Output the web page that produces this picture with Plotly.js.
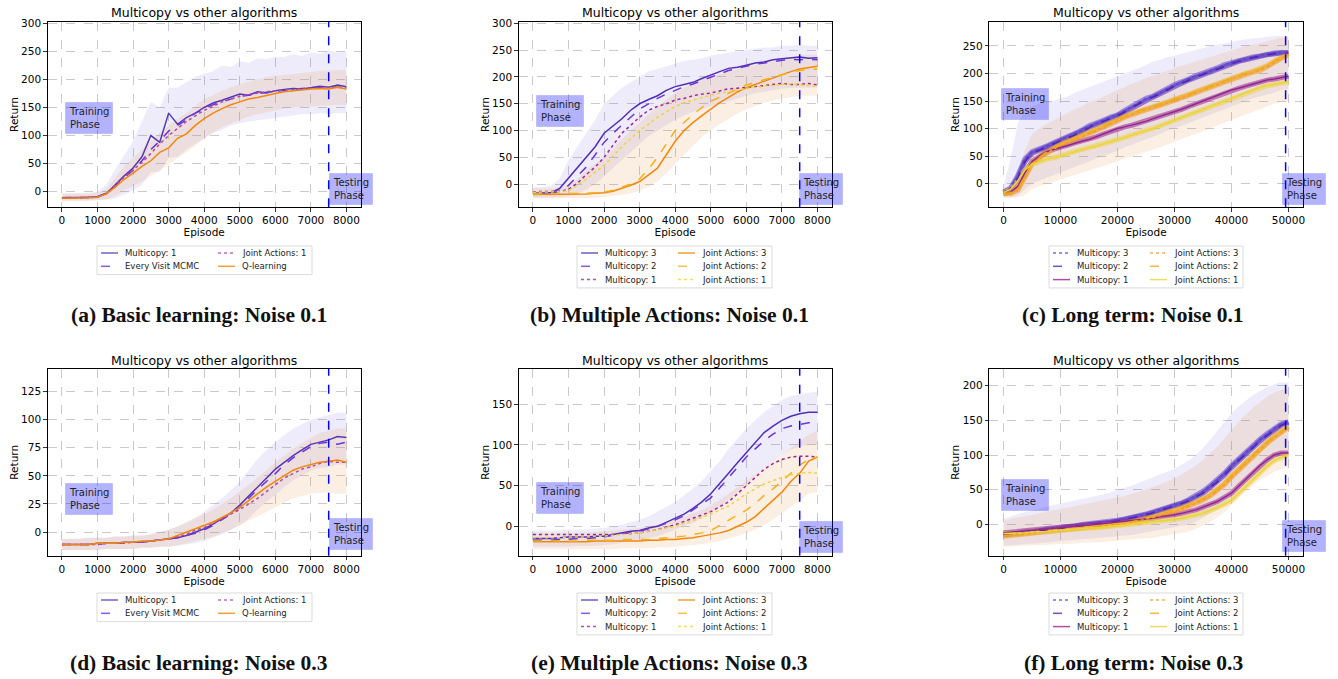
<!DOCTYPE html>
<html>
<head>
<meta charset="utf-8">
<script src="https://cdn.plot.ly/plotly-3.0.1.min.js"></script>
<style>html,body{margin:0;padding:0;background:#fff;}#chart{width:1338px;height:679px;}</style>
</head>
<body>
<div id="chart"></div>
<script>
// ---------- DATA ----------
const epShort = [0,250,500,750,1000,1250,1500,1750,2000,2250,2500,2750,3000,3250,3500,3750,4000,4250,4500,4750,5000,5250,5500,5750,6000,6250,6500,6750,7000,7250,7500,7750,8000];
const epLong = [0,1250,2500,3750,5000,6250,7500,8750,10000,11250,12500,13750,15000,16250,17500,18750,20000,21250,22500,23750,25000,26250,27500,28750,30000,31250,32500,33750,35000,36250,37500,38750,40000,41250,42500,43750,45000,46250,47500,48750,50000];
const testStartShort = 7500;
const testStartLong = 49500;

const xTicksShort = [0,1000,2000,3000,4000,5000,6000,7000,8000];
const xTicksLong = [0,10000,20000,30000,40000,50000];
const yTicksA = [0,50,100,150,200,250,300];
const yTicksB = [0,50,100,150,200,250,300];
const yTicksC = [0,50,100,150,200,250];
const yTicksD = [0,25,50,75,100,125];
const yTicksE = [0,50,100,150];
const yTicksF = [0,50,100,150,200];

// (a) Basic learning: Noise 0.1
const aMulticopy1 = [-11,-11,-11,-10,-9,-4,12,28,42,62,100,88,140,120,132,140,150,158,163,168,174,172,178,176,180,182,184,183,186,188,186,190,187];
const aEveryVisit = [-11,-11,-11,-10,-9,-3,10,25,38,55,75,90,108,118,128,140,148,155,160,165,170,172,175,177,179,181,183,184,185,186,187,186,186];
const aJoint1 = [-12,-12,-11,-11,-10,-3,12,25,38,52,68,85,100,112,125,135,145,152,160,165,170,173,176,178,180,181,182,184,185,185,186,186,185];
const aQlearn = [-12,-12,-12,-11,-10,-4,8,22,33,45,55,70,78,95,103,118,130,140,148,155,160,165,168,172,175,178,180,181,183,184,183,186,183];
const aMcHi = [-3,-3,-3,-2,0,12,40,65,90,125,160,150,185,185,195,205,210,215,225,222,232,230,238,236,240,240,245,242,248,246,252,248,250];
const aMcLo = [-16,-16,-16,-16,-15,-14,-12,-5,2,12,35,35,60,62,75,85,95,105,110,118,122,125,128,130,132,134,136,138,138,140,138,140,140];
const aJaHi = [-5,-5,-5,-4,-3,5,25,45,60,75,90,105,118,130,140,152,165,172,180,186,192,196,200,204,206,208,210,212,214,215,216,217,216];
const aJaLo = [-17,-17,-17,-17,-16,-14,-8,2,10,18,28,38,48,60,70,82,95,105,115,122,128,134,138,142,145,148,150,152,153,154,154,155,154];

// (b) Multiple Actions: Noise 0.1
const bMC3 = [-17,-17,-16,-8,12,30,50,70,95,108,122,138,150,158,165,175,182,186,190,197,204,210,216,218,222,226,228,232,234,236,237,235,236];
const bMC2 = [-18,-18,-17,-13,-2,15,32,55,78,95,110,125,140,150,160,168,175,182,187,193,200,206,212,216,220,224,226,229,231,233,232,233,232];
const bMC1 = [-14,-14,-14,-13,-10,2,18,32,50,72,95,110,125,138,145,150,157,160,165,168,170,174,178,179,180,182,184,186,188,186,186,188,185];
const bJA3 = [-19,-19,-19,-19,-19,-19,-18,-17,-16,-13,-8,-2,5,18,30,55,80,100,115,128,140,152,162,172,180,186,192,198,205,210,215,218,220];
const bJA2 = [-18,-18,-18,-18,-18,-18,-17,-16,-15,-11,-6,0,10,28,50,75,100,115,130,143,155,162,170,178,185,190,195,200,205,209,212,214,215];
const bJA1 = [-15,-15,-15,-14,-12,-2,10,22,35,52,70,85,100,112,125,135,145,152,157,162,166,170,173,176,179,181,183,185,186,187,186,184,183];
const bMcHi = [-5,-5,-3,10,45,70,95,120,150,165,180,190,200,210,215,220,225,230,232,235,240,242,245,248,250,252,255,255,258,258,260,258,258];
const bMcLo = [-25,-25,-25,-24,-22,-18,-10,0,15,30,45,60,75,90,100,110,120,128,135,140,145,150,155,160,165,170,172,175,178,180,180,180,180];
const bJaHi = [-8,-8,-8,-6,-2,10,25,38,50,65,85,100,115,130,145,158,170,180,188,195,200,205,210,215,218,222,226,230,234,237,240,242,242];
const bJaLo = [-26,-26,-26,-26,-26,-26,-26,-25,-24,-22,-20,-17,-12,-5,5,20,38,55,72,88,100,112,122,132,140,146,152,156,160,162,165,165,165];

// (c) Long term: Noise 0.1
const cMC3 = [-15,-8,15,45,58,62,68,74,80,84,90,97,105,109,115,121,125,133,140,147,155,159,165,173,180,184,190,196,200,204,210,216,220,223,227,230,232,235,237,238,238];
const cMC2 = [-16,-10,10,40,55,60,66,72,78,83,88,95,102,108,113,118,123,130,138,145,152,157,163,170,177,182,188,193,198,203,208,213,218,222,225,229,231,234,236,237,237];
const cMC1 = [-18,-15,-5,20,40,50,58,62,65,70,74,77,80,85,90,95,100,103,106,110,113,118,122,126,130,135,140,145,150,155,160,165,170,173,177,181,185,188,190,193,195];
const cJA3 = [-18,-18,-12,10,35,45,55,62,70,75,80,85,90,95,102,108,115,120,125,130,135,138,142,146,150,155,160,165,170,175,180,185,190,195,198,202,205,212,220,228,235];
const cJA2 = [-17,-17,-10,12,38,48,57,64,72,77,82,87,92,97,104,110,117,122,127,132,137,140,144,148,152,157,162,167,172,177,182,187,192,196,200,204,208,214,222,229,233];
const cJA1 = [-16,-10,5,25,35,40,44,47,50,54,58,62,65,68,72,76,80,84,88,92,95,100,105,110,115,120,125,130,135,140,145,150,155,160,165,170,175,178,180,183,185];
const cMcHi = [-5,45,110,135,140,145,148,150,155,158,165,170,176,180,185,190,196,200,206,210,215,222,225,230,232,236,240,243,246,250,252,255,258,260,262,264,265,266,268,268,268];
const cMcLo = [-25,-25,-22,-10,0,5,10,14,20,24,30,35,40,45,50,55,60,66,70,76,80,85,90,96,100,105,110,115,120,125,130,134,140,145,150,155,158,162,165,170,172];
const cJaHi = [-8,-5,20,60,90,100,108,115,122,128,135,140,148,152,158,165,170,175,182,186,192,196,200,205,210,214,218,222,226,230,234,238,242,246,250,252,255,258,262,265,265];
const cJaLo = [-26,-26,-25,-20,-10,-5,0,3,8,12,15,20,24,28,32,36,40,45,50,54,58,62,66,70,75,80,85,90,95,100,105,110,115,120,125,130,135,140,145,148,150];

// (d) Basic learning: Noise 0.3
const dMulticopy1 = [-11,-11,-11,-11,-10,-10,-10,-9,-9,-9,-8,-7,-6,-5,-3,0,3,7,12,17,24,32,40,48,56,62,68,73,78,80,82,85,84];
const dEveryVisit = [-11,-11,-11,-11,-11,-10,-10,-10,-9,-9,-8,-7,-6,-5,-3,-1,2,6,11,16,22,30,38,45,52,60,66,71,76,79,80,78,80];
const dJoint1 = [-11,-11,-11,-11,-11,-10,-10,-10,-9,-9,-8,-7,-6,-4,-2,2,4,8,12,16,20,25,30,36,42,48,52,56,58,61,63,62,62];
const dQlearn = [-11,-11,-11,-11,-10,-10,-10,-9,-9,-8,-8,-7,-6,-3,0,3,6,9,13,17,22,28,34,40,45,50,55,58,60,62,63,64,62];
const dMcHi = [-6,-6,-6,-5,-5,-5,-4,-4,-3,-3,-2,0,2,5,9,13,18,24,30,37,45,55,65,73,80,86,92,96,100,102,104,106,106];
const dMcLo = [-16,-16,-16,-16,-16,-15,-15,-15,-15,-14,-14,-13,-13,-12,-11,-10,-8,-5,-2,2,6,12,20,27,33,40,46,50,55,57,58,60,60];
const dJaHi = [-6,-6,-6,-5,-5,-5,-4,-4,-3,-3,-2,0,2,5,8,12,16,20,25,30,36,42,48,55,62,68,74,79,84,88,90,92,92];
const dJaLo = [-16,-16,-16,-16,-16,-15,-15,-15,-15,-14,-14,-13,-13,-12,-10,-8,-6,-4,-1,2,6,10,14,18,22,26,30,32,34,35,35,34,34];

// (e) Multiple Actions: Noise 0.3
const eMC3 = [-15,-15,-15,-14,-13,-13,-13,-12,-12,-10,-8,-6,-5,-2,0,5,10,15,22,30,40,52,65,78,90,103,115,123,130,135,138,140,140];
const eMC2 = [-17,-17,-17,-16,-16,-15,-15,-14,-13,-11,-9,-8,-6,-3,0,4,8,13,20,27,35,47,60,72,85,95,105,113,120,123,125,127,128];
const eMC1 = [-10,-10,-10,-10,-10,-10,-10,-10,-10,-10,-9,-9,-8,-6,-4,-1,2,6,10,14,18,24,30,40,50,60,70,77,82,85,86,86,85];
const eJA3 = [-19,-19,-19,-19,-19,-19,-19,-18,-18,-18,-18,-18,-18,-17,-17,-16,-16,-15,-14,-12,-10,-8,-5,0,5,12,22,32,42,55,65,80,85];
const eJA2 = [-18,-18,-18,-18,-18,-18,-17,-17,-17,-17,-16,-16,-16,-16,-15,-14,-13,-12,-10,-8,-5,1,8,14,20,28,38,46,55,65,75,82,85];
const eJA1 = [-14,-14,-14,-14,-13,-13,-13,-12,-12,-11,-10,-9,-8,-6,-4,-2,0,4,7,11,15,20,25,32,40,46,52,56,60,63,65,66,65];
const eMcHi = [-5,-5,-5,-5,-4,-4,-4,-3,-2,0,2,5,8,12,18,24,30,38,46,56,68,80,95,108,120,130,140,148,155,160,162,164,165];
const eMcLo = [-25,-25,-25,-25,-25,-24,-24,-24,-23,-22,-20,-18,-16,-14,-12,-8,-4,0,4,10,16,24,32,42,52,62,72,80,88,94,98,100,100];
const eJaHi = [-8,-8,-8,-8,-8,-8,-8,-7,-6,-5,-4,-3,-2,0,2,5,8,12,16,20,26,32,40,48,56,64,72,80,88,96,104,112,118];
const eJaLo = [-28,-28,-28,-28,-28,-28,-28,-28,-28,-28,-27,-27,-27,-27,-26,-26,-25,-24,-23,-22,-20,-18,-15,-12,-8,-4,2,8,16,24,32,40,42];

// (f) Long term: Noise 0.3
const fMC3 = [-14,-13,-13,-12,-11,-9,-7,-6,-5,-3,-2,0,1,2,3,4,6,8,10,12,15,18,21,24,27,31,36,41,48,56,64,74,85,95,104,114,123,131,139,145,148];
const fMC2 = [-15,-14,-13,-12,-11,-10,-8,-7,-6,-4,-3,-1,0,1,2,3,5,7,9,11,14,17,20,23,26,30,34,39,45,53,61,71,82,92,101,111,120,128,136,143,147];
const fMC1 = [-12,-11,-10,-9,-8,-7,-6,-5,-5,-4,-3,-2,-1,0,1,2,3,4,5,6,8,9,11,12,14,16,18,21,25,29,33,39,45,55,65,75,85,93,100,103,103];
const fJA3 = [-17,-16,-15,-14,-13,-12,-11,-10,-9,-8,-7,-6,-5,-4,-3,-2,0,1,3,5,8,10,13,15,18,22,26,30,35,41,48,57,68,78,88,98,108,117,125,133,140];
const fJA2 = [-16,-15,-14,-13,-12,-11,-10,-9,-8,-7,-6,-5,-4,-3,-2,-1,1,2,4,6,9,11,14,17,20,24,28,32,37,43,50,59,70,80,90,100,110,118,127,134,141];
const fJA1 = [-13,-13,-12,-12,-11,-11,-10,-9,-8,-8,-7,-6,-5,-5,-4,-3,-2,-1,0,1,2,3,4,5,7,9,11,13,16,20,24,29,35,45,55,65,75,84,92,97,100];
const fMcHi = [8,12,15,18,20,22,25,28,30,32,34,36,38,40,43,46,50,53,56,60,64,68,72,76,80,86,92,100,110,122,135,148,160,170,178,186,192,198,202,205,205];
const fMcLo = [-30,-30,-29,-28,-28,-27,-26,-25,-24,-24,-23,-22,-21,-20,-19,-18,-17,-16,-15,-14,-12,-10,-8,-6,-4,-2,0,4,10,16,22,30,40,50,60,70,78,86,94,100,104];
const fJaHi = [5,8,10,12,14,16,18,20,22,24,26,28,30,32,34,36,38,41,44,47,50,54,58,62,66,72,78,85,93,102,112,124,136,148,158,168,176,184,190,194,195];
const fJaLo = [-32,-32,-31,-31,-30,-30,-29,-29,-28,-28,-27,-27,-26,-26,-25,-25,-24,-23,-22,-21,-20,-19,-18,-16,-14,-12,-10,-6,-2,4,10,18,28,38,48,56,64,70,76,80,82];

// ---------- STYLE ----------
const FONT = 'DejaVu Sans';
const C = {
  mc3:'#4f2fb4', mc2:'#6a35d2', mc1:'#a3268f',
  ja3:'#f2870a', ja2:'#f2b117', ja1:'#ecd43c',
  mcA:'#5538b8', ev:'#6b34d6', jaA:'#b34a9e', ql:'#f2870a'
};
const bandMC = 'rgba(125,105,215,0.13)';
const bandJA = 'rgba(228,150,80,0.16)';

const W = 1338, H = 679;
const colX = [[47.7,360.7],[518.7,831.7],[989.3,1302.7]];
const rowY = [[21.7,207.3],[369,555.7]];

const panels = [
  {k:1, col:0, row:0, ep:epShort, test:testStartShort, xr:[-400,8400], yr:[-28,303], xt:xTicksShort, yt:yTicksA, long:false,
   caption:'(a) Basic learning: Noise 0.1',
   series:[
    {name:'Multicopy: 1', y:aMulticopy1, color:C.mcA, dash:'solid', g:1},
    {name:'Every Visit MCMC', y:aEveryVisit, color:C.ev, dash:'dash', g:1},
    {name:'Joint Actions: 1', y:aJoint1, color:C.jaA, dash:'dot', g:2},
    {name:'Q-learning', y:aQlearn, color:C.ql, dash:'solid', g:2}],
   bands:[[aMcHi,aMcLo,bandMC],[aJaHi,aJaLo,bandJA]],
   train:[65,102], testb:[329,173], leg:[97,215,117]},
  {k:2, col:1, row:0, ep:epShort, test:testStartShort, xr:[-400,8400], yr:[-43,303], xt:xTicksShort, yt:yTicksB, long:false,
   caption:'(b) Multiple Actions: Noise 0.1',
   series:[
    {name:'Multicopy: 3', y:bMC3, color:C.mc3, dash:'solid', g:1},
    {name:'Multicopy: 2', y:bMC2, color:C.mc2, dash:'dash', g:1},
    {name:'Multicopy: 1', y:bMC1, color:C.mc1, dash:'dot', g:1},
    {name:'Joint Actions: 3', y:bJA3, color:C.ja3, dash:'solid', g:2},
    {name:'Joint Actions: 2', y:bJA2, color:C.ja2, dash:'dash', g:2},
    {name:'Joint Actions: 1', y:bJA1, color:C.ja1, dash:'dot', g:2}],
   bands:[[bMcHi,bMcLo,bandMC],[bJaHi,bJaLo,bandJA]],
   train:[536.3,95], testb:[799,173], leg:[577,195,97]},
  {k:3, col:2, row:0, ep:epLong, test:testStartLong, xr:[-2500,52500], yr:[-43,294], xt:xTicksLong, yt:yTicksC, long:true,
   caption:'(c) Long term: Noise 0.1',
   series:[
    {name:'Multicopy: 3', y:cMC3, color:'#5a45d8', dash:'dot', g:1},
    {name:'Multicopy: 2', y:cMC2, color:'#4f25b8', dash:'dash', g:1},
    {name:'Multicopy: 1', y:cMC1, color:'#96258f', dash:'solid', g:1},
    {name:'Joint Actions: 3', y:cJA3, color:'#f39a3a', dash:'dot', g:2},
    {name:'Joint Actions: 2', y:cJA2, color:'#f0ab10', dash:'dash', g:2},
    {name:'Joint Actions: 1', y:cJA1, color:'#ecd43c', dash:'solid', g:2}],
   bands:[[cMcHi,cMcLo,bandMC],[cJaHi,cJaLo,bandJA]],
   train:[1000.7,88], testb:[1281.7,173], leg:[1049,194,97]},
  {k:4, col:0, row:1, ep:epShort, test:testStartShort, xr:[-400,8400], yr:[-21,145], xt:xTicksShort, yt:yTicksD, long:false,
   caption:'(d) Basic learning: Noise 0.3',
   series:[
    {name:'Multicopy: 1', y:dMulticopy1, color:C.mcA, dash:'solid', g:1},
    {name:'Every Visit MCMC', y:dEveryVisit, color:C.ev, dash:'dash', g:1},
    {name:'Joint Actions: 1', y:dJoint1, color:C.jaA, dash:'dot', g:2},
    {name:'Q-learning', y:dQlearn, color:C.ql, dash:'solid', g:2}],
   bands:[[dMcHi,dMcLo,bandMC],[dJaHi,dJaLo,bandJA]],
   train:[65,483], testb:[329,518], leg:[97,215,117]},
  {k:5, col:1, row:1, ep:epShort, test:testStartShort, xr:[-400,8400], yr:[-36,193], xt:xTicksShort, yt:yTicksE, long:false,
   caption:'(e) Multiple Actions: Noise 0.3',
   series:[
    {name:'Multicopy: 3', y:eMC3, color:C.mc3, dash:'solid', g:1},
    {name:'Multicopy: 2', y:eMC2, color:C.mc2, dash:'dash', g:1},
    {name:'Multicopy: 1', y:eMC1, color:C.mc1, dash:'dot', g:1},
    {name:'Joint Actions: 3', y:eJA3, color:C.ja3, dash:'solid', g:2},
    {name:'Joint Actions: 2', y:eJA2, color:C.ja2, dash:'dash', g:2},
    {name:'Joint Actions: 1', y:eJA1, color:C.ja1, dash:'dot', g:2}],
   bands:[[eMcHi,eMcLo,bandMC],[eJaHi,eJaLo,bandJA]],
   train:[536.3,482], testb:[799,520.7], leg:[577,195,97]},
  {k:6, col:2, row:1, ep:epLong, test:testStartLong, xr:[-2500,52500], yr:[-45,224], xt:xTicksLong, yt:yTicksF, long:true,
   caption:'(f) Long term: Noise 0.3',
   series:[
    {name:'Multicopy: 3', y:fMC3, color:'#5a45d8', dash:'dot', g:1},
    {name:'Multicopy: 2', y:fMC2, color:'#4f25b8', dash:'dash', g:1},
    {name:'Multicopy: 1', y:fMC1, color:'#96258f', dash:'solid', g:1},
    {name:'Joint Actions: 3', y:fJA3, color:'#f39a3a', dash:'dot', g:2},
    {name:'Joint Actions: 2', y:fJA2, color:'#f0ab10', dash:'dash', g:2},
    {name:'Joint Actions: 1', y:fJA1, color:'#ecd43c', dash:'solid', g:2}],
   bands:[[fMcHi,fMcLo,bandMC],[fJaHi,fJaLo,bandJA]],
   train:[1000.7,479], testb:[1282,520], leg:[1049,194,97]}
];
const captionX = [199, 669, 1133];
const captionY = [315, 663];
const legendTop = [246, 593];
const legendRowPitch = 13.3;

const px = v => v / W;
const py = v => 1 - v / H;

const traces = [];
const layout = {
  width: W, height: H,
  margin: {l:0, r:0, t:0, b:0},
  paper_bgcolor: 'white', plot_bgcolor: 'white',
  font: {family: FONT, size: 10, color: '#000'},
  showlegend: false,
  annotations: [], shapes: []
};

panels.forEach(p => {
  const sfx = p.k === 1 ? '' : String(p.k);
  const xa = 'x' + sfx, ya = 'y' + sfx;
  const [xl, xrp] = colX[p.col];
  const [yt, yb] = rowY[p.row];

  layout['xaxis' + sfx] = {
    domain: [px(xl), px(xrp)], anchor: ya, range: p.xr,
    tickvals: p.xt, ticktext: p.xt.map(String),
    ticks: 'outside', ticklen: 3.5, tickwidth: 0.8, tickcolor: '#000',
    showline: true, mirror: true, linecolor: '#000', linewidth: 1,
    showgrid: true, gridcolor: '#b3b3b3', griddash: 'dash', gridwidth: 0.7,
    zeroline: false, tickfont: {size: 10.5, family: FONT},
    title: {text: 'Episode', font: {size: 10.5, family: FONT}, standoff: 3}
  };
  layout['yaxis' + sfx] = {
    domain: [py(yb), py(yt)], anchor: xa, range: p.yr,
    tickvals: p.yt, ticktext: p.yt.map(String),
    ticks: 'outside', ticklen: 3.5, tickwidth: 0.8, tickcolor: '#000',
    showline: true, mirror: true, linecolor: '#000', linewidth: 1,
    showgrid: true, gridcolor: '#b3b3b3', griddash: 'dash', gridwidth: 0.7,
    zeroline: false, tickfont: {size: 10.5, family: FONT},
    title: {text: 'Return', font: {size: 10.5, family: FONT}, standoff: 0}
  };

  // shaded variability bands
  p.bands.forEach(b => {
    traces.push({
      type: 'scatter', mode: 'lines', xaxis: xa, yaxis: ya,
      x: p.ep.concat(p.ep.slice().reverse()),
      y: b[0].concat(b[1].slice().reverse()),
      fill: 'toself', fillcolor: b[2], line: {width: 0},
      showlegend: false, hoverinfo: 'skip'
    });
  });

  // thick noisy underlay for long-term runs
  if (p.long) {
    p.series.forEach(s => {
      traces.push({
        type: 'scatter', mode: 'lines', xaxis: xa, yaxis: ya,
        x: p.ep, y: s.y, line: {color: s.color, width: 5},
        opacity: 0.55, showlegend: false, hoverinfo: 'skip'
      });
    });
  }

  p.series.forEach(s => {
    traces.push({
      type: 'scatter', mode: 'lines', xaxis: xa, yaxis: ya,
      x: p.ep, y: s.y, name: s.name,
      line: {color: s.color, width: 1.5, dash: s.dash}
    });
  });

  // legend box (two columns, matplotlib style)
  const [lx, lw, colOff] = p.leg;
  const ltop = legendTop[p.row];
  const nRows = Math.max(...[1, 2].map(g => p.series.filter(s => s.g === g).length));
  const lh = nRows * legendRowPitch + 2;
  layout.shapes.push({
    type: 'rect', xref: 'paper', yref: 'paper',
    x0: px(lx), x1: px(lx + lw), y0: py(ltop), y1: py(ltop + lh),
    line: {color: '#d2d2d2', width: 0.8}, fillcolor: 'white'
  });
  [1, 2].forEach(g => {
    p.series.filter(s => s.g === g).forEach((s, i) => {
      const cy = ltop + 7 + i * legendRowPitch;
      const cx = lx + (g - 1) * colOff;
      layout.shapes.push({
        type: 'line', xref: 'paper', yref: 'paper',
        x0: px(cx + 4), x1: px(cx + 21), y0: py(cy), y1: py(cy),
        line: {color: s.color, width: 1.5, dash: s.dash}, opacity: 0.8
      });
      layout.annotations.push({
        xref: 'paper', yref: 'paper', x: px(cx + 26), y: py(cy),
        xanchor: 'left', yanchor: 'middle', showarrow: false,
        text: s.name, font: {family: FONT, size: 8.5, color: '#222'}
      });
    });
  });

  // subplot title
  layout.annotations.push({
    xref: 'paper', yref: 'paper', x: px((xl + xrp) / 2), y: py(yt - 9),
    xanchor: 'center', yanchor: 'middle', showarrow: false,
    text: 'Multicopy vs other algorithms', font: {family: FONT, size: 12.5, color: '#000'}
  });
  // phase boxes
  layout.annotations.push({
    xref: 'paper', yref: 'paper', x: px(p.train[0]), y: py(p.train[1]),
    xanchor: 'left', yanchor: 'top', showarrow: false, align: 'left',
    text: 'Training<br>Phase', font: {family: FONT, size: 10, color: '#222'},
    bgcolor: 'rgba(0,0,255,0.3)', bordercolor: 'rgba(0,0,200,0.12)', borderwidth: 1, borderpad: 3
  });
  layout.annotations.push({
    xref: 'paper', yref: 'paper', x: px(p.testb[0]), y: py(p.testb[1]),
    xanchor: 'left', yanchor: 'top', showarrow: false, align: 'left',
    text: 'Testing<br>Phase', font: {family: FONT, size: 10, color: '#222'},
    bgcolor: 'rgba(0,0,255,0.3)', bordercolor: 'rgba(0,0,200,0.12)', borderwidth: 1, borderpad: 3
  });
  // caption
  layout.annotations.push({
    xref: 'paper', yref: 'paper', x: px(captionX[p.col]), y: py(captionY[p.row]),
    xanchor: 'center', yanchor: 'middle', showarrow: false,
    text: '<b>' + p.caption + '</b>', font: {family: 'Liberation Serif', size: 21.5, color: '#111'}
  });
  // testing-phase boundary
  layout.shapes.push({
    type: 'line', xref: xa, yref: ya + ' domain', x0: p.test, x1: p.test, y0: 0, y1: 1,
    line: {color: '#0000ff', width: 1.5, dash: 'dash'}
  });
});

Plotly.newPlot('chart', traces, layout, {staticPlot: true, displayModeBar: false});
</script>
</body>
</html>
